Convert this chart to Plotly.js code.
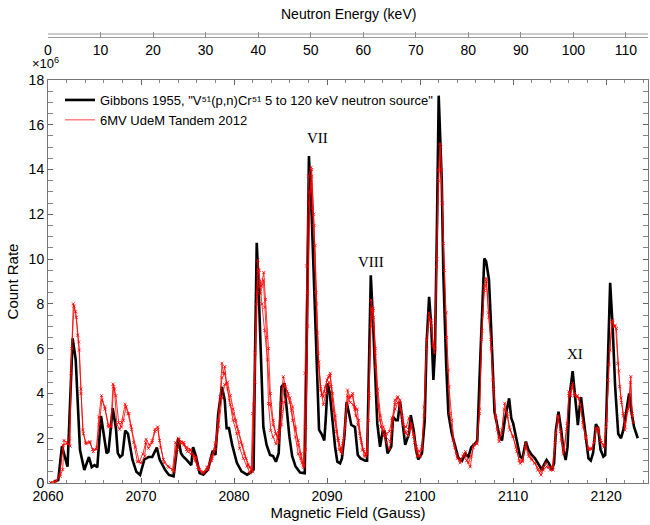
<!DOCTYPE html>
<html>
<head>
<meta charset="utf-8">
<script src="https://cdn.plot.ly/plotly-3.0.1.min.js"></script>
<style>html,body{margin:0;padding:0;background:#fff;}#chart{width:650px;height:525px;}</style>
</head>
<body>
<div id="chart"></div>
<script>
// Gibbons 1955 (black)
const gibbonsField = [2060.6,2061.1,2061.5,2062.1,2062.65,2062.98,2063.44,2063.9,2064.4,2064.7,2065.0,2065.3,2065.7,2066.3,2066.5,2066.96,2067.3,2067.5,2067.74,2068.0,2068.3,2068.6,2069.07,2069.5,2069.9,2070.36,2070.8,2071.2,2071.7,2072.0,2072.6,2073.0,2073.5,2073.7,2074.0,2074.3,2074.5,2074.9,2075.4,2075.6,2075.9,2076.3,2076.7,2077.2,2077.7,2078.0,2078.3,2078.7,2079.0,2079.2,2079.45,2079.8,2080.3,2080.8,2081.4,2081.8,2082.1,2082.26,2082.44,2082.6,2082.87,2083.15,2083.5,2083.87,2084.2,2084.5,2084.8,2085.1,2085.4,2085.6,2085.95,2086.25,2086.6,2087.1,2087.6,2087.8,2088.05,2088.35,2088.6,2088.8,2088.96,2089.14,2089.4,2089.7,2089.85,2090.07,2090.3,2090.57,2090.86,2091.1,2091.4,2091.6,2091.86,2092.1,2092.35,2092.6,2093.0,2093.3,2093.6,2094.1,2094.3,2094.44,2094.7,2094.9,2095.16,2095.4,2095.7,2095.97,2096.2,2096.5,2096.9,2097.1,2097.4,2097.6,2097.85,2098.1,2098.4,2098.8,2099.0,2099.3,2099.57,2099.8,2100.2,2100.5,2100.7,2100.97,2101.2,2101.43,2101.6,2101.8,2102.0,2102.33,2102.5,2102.8,2103.04,2103.4,2103.76,2104.1,2104.5,2104.85,2105.2,2105.5,2105.9,2106.15,2106.45,2106.9,2107.1,2107.4,2107.6,2107.8,2108.0,2108.25,2108.5,2108.8,2109.1,2109.57,2109.8,2110.0,2110.4,2110.75,2111.0,2111.37,2111.65,2112.0,2112.35,2112.7,2113.1,2113.3,2113.6,2113.85,2114.16,2114.4,2114.6,2114.88,2115.17,2115.4,2115.65,2115.85,2116.1,2116.4,2116.65,2116.96,2117.1,2117.3,2117.55,2117.85,2118.1,2118.35,2118.6,2118.9,2119.15,2119.4,2119.7,2119.9,2120.14,2120.43,2120.7,2120.97,2121.3,2121.6,2121.85,2122.2,2122.47,2122.75,2123.0,2123.4];
const gibbonsRate = [0.05,0.13,1.65,0.73,6.46,5.5,1.47,0.58,1.16,0.71,0.8,0.7,2.99,1.33,1.4,3.34,2.46,1.33,1.16,1.25,2.34,2.2,1.05,0.5,0.36,1.05,1.16,1.16,1.58,1.05,0.58,0.36,0.3,1.05,2.0,1.33,1.2,1.03,0.8,1.6,1.2,0.44,0.37,0.6,1.44,1.25,3.1,4.3,3.7,2.45,2.45,1.7,0.9,0.52,0.37,0.47,0.6,5.8,10.73,9.2,5.8,2.5,1.7,1.25,1.2,0.95,1.33,4.3,4.45,3.6,2.07,1.2,0.75,0.47,0.44,5.8,14.6,11.9,8.77,6.38,3.7,2.37,2.2,1.9,2.8,4.45,4.0,2.8,1.62,0.95,0.88,1.1,2.07,3.63,3.1,2.6,2.5,1.25,1.1,1.0,1.0,4.45,9.28,7.58,4.6,2.65,1.62,2.3,2.3,1.32,1.62,2.96,2.8,2.8,3.63,2.8,1.7,2.2,3.03,2.37,1.47,1.05,1.32,2.8,6.24,8.32,7.0,4.6,5.9,11.15,17.3,13.5,9.36,5.34,3.1,2.22,1.62,1.13,0.99,1.3,1.17,1.6,1.75,1.9,5.34,10.03,9.9,9.1,7.3,5.0,3.18,2.67,2.14,1.9,2.8,3.78,2.9,2.67,1.8,1.18,1.1,1.85,1.48,1.25,1.1,0.88,0.58,0.8,1.03,0.88,0.58,0.88,2.37,3.18,2.37,1.47,1.03,1.6,4.0,5.0,3.9,2.59,3.2,3.83,2.95,2.07,1.1,1.0,1.35,2.63,2.45,1.48,1.18,1.25,4.75,8.94,6.96,4.3,2.2,2.0,2.37,3.4,4.0,3.1,2.5,2.0];

// 6MV UdeM Tandem 2012 (red), run A
const runAField = [2060.3,2060.9,2061.3,2061.58,2061.72,2062.1,2062.37,2062.47,2062.72,2062.97,2063.19,2063.37,2063.55,2063.73,2064.05,2064.5,2064.87,2065.23,2065.46,2065.75,2066.13,2066.49,2066.74,2067.0,2067.15,2067.4,2067.7,2067.9,2068.3,2068.6,2068.9,2069.2,2069.6,2070.0,2070.4,2070.55,2070.9,2071.2,2071.5,2071.8,2072.0,2072.4,2072.9,2073.4,2073.7,2074.0,2074.3,2074.6,2074.9,2075.3,2075.9,2076.3,2076.7,2077.2,2077.6,2078.0,2078.3,2078.5,2078.7,2078.85,2079.0,2079.2,2079.5,2079.9,2080.3,2080.6,2081.0,2081.4,2081.7,2081.85,2082.0,2082.26,2082.55,2082.7,2082.85,2083.15,2083.3,2083.5,2083.7,2083.95,2084.2,2084.5,2084.8,2085.0,2085.3,2085.55,2085.8,2086.2,2086.6,2086.9,2087.3,2087.45,2087.63,2087.8,2088.0,2088.28,2088.4,2088.7,2088.96,2089.1,2089.3,2089.6,2089.8,2090.14,2090.35,2090.57,2090.86,2091.2,2091.5,2091.7,2092.0,2092.2,2092.45,2092.76,2093.0,2093.25,2093.5,2093.8,2094.1,2094.3,2094.5,2094.73,2094.95,2095.16,2095.4,2095.7,2096.0,2096.3,2096.8,2097.0,2097.3,2097.6,2097.85,2098.1,2098.4,2098.8,2099.0,2099.3,2099.6,2099.9,2100.2,2100.43,2100.7,2100.97,2101.2,2101.4,2101.55,2101.75,2101.97,2102.15,2102.3,2102.5,2102.8,2103.04,2103.2,2103.55,2103.9,2104.3,2104.7,2105.0,2105.4,2105.7,2106.1,2106.4,2106.6,2106.9,2107.1,2107.34,2107.6,2107.8,2108.1,2108.3,2108.5,2108.8,2109.1,2109.4,2109.65,2110.0,2110.4,2110.75,2111.0,2111.37,2111.7,2112.0,2112.35,2112.65,2113.0,2113.25,2113.6,2114.0,2114.3,2114.6,2114.88,2115.17,2115.5,2115.8,2116.0,2116.2,2116.4,2116.6,2116.85,2117.1,2117.3,2117.55,2117.85,2118.1,2118.45,2118.75,2118.9,2119.15,2119.4,2119.75,2120.0,2120.2,2120.4,2120.68,2120.86,2121.0,2121.25,2121.45,2121.65,2121.85,2122.0,2122.3,2122.5,2122.65,2122.8,2122.9];
const runARate = [0.02,0.1,0.3,0.6,1.9,1.8,1.65,4.9,8.0,7.65,6.6,5.94,4.2,2.37,1.8,1.85,1.4,1.6,2.95,3.9,3.3,2.5,2.55,4.42,4.2,2.6,2.4,2.7,3.52,3.1,2.55,1.8,0.95,0.9,1.2,1.95,1.7,1.9,2.4,2.5,1.9,1.05,0.75,0.6,1.8,2.0,1.85,1.8,1.5,1.45,1.15,0.6,0.5,0.7,1.2,1.75,2.8,3.85,5.35,4.9,5.2,4.45,3.7,2.8,2.2,1.55,1.1,0.75,0.45,0.6,3.1,5.8,9.95,9.5,8.45,9.06,7.85,6.5,3.55,2.35,2.05,1.75,2.35,3.55,4.75,4.3,4.0,3.25,2.05,1.3,0.9,0.75,4.9,9.7,13.7,14.1,12.3,10.6,6.7,5.4,4.15,3.85,4.3,4.75,4.9,3.7,2.8,1.9,1.47,1.77,2.8,4.15,3.85,4.0,3.3,3.3,2.22,1.47,1.32,1.4,4.0,8.17,7.7,5.8,4.0,2.8,2.37,2.07,1.85,2.8,3.7,3.85,3.7,2.8,2.22,2.37,2.66,2.07,1.62,1.4,1.62,3.4,6.4,7.42,7.27,6.1,5.8,9.66,13.97,15.16,14.0,10.7,7.6,5.04,3.1,1.9,1.3,1.0,1.3,1.0,0.72,1.6,1.75,3.1,6.4,8.8,9.14,7.6,6.4,4.6,3.0,2.37,1.85,2.37,3.56,2.96,2.37,2.07,1.4,0.88,0.95,1.77,1.18,1.03,0.88,0.58,0.36,0.58,0.73,0.58,0.58,2.22,2.96,1.9,1.47,2.66,4.08,3.9,4.45,3.9,3.85,3.8,3.3,2.5,2.07,1.55,1.55,1.9,2.45,2.45,1.9,1.6,2.5,4.6,5.94,7.28,6.98,7.05,5.34,4.3,3.6,3.1,2.37,3.25,3.4,4.75,3.1,2.7];

// run B
const runBField = [2060.3,2060.8,2061.3,2061.6,2062.0,2062.3,2062.55,2062.8,2063.05,2063.3,2063.55,2063.8,2064.1,2064.5,2064.8,2065.2,2065.5,2065.8,2066.1,2066.5,2066.8,2067.05,2067.3,2067.6,2067.9,2068.1,2068.4,2068.7,2069.0,2069.4,2069.8,2070.2,2070.5,2070.8,2071.2,2071.5,2071.8,2072.1,2072.5,2073.0,2073.5,2073.8,2074.1,2074.5,2074.9,2075.3,2075.7,2076.1,2076.6,2077.1,2077.6,2078.0,2078.4,2078.7,2079.0,2079.3,2079.6,2079.9,2080.3,2080.7,2081.1,2081.5,2081.9,2082.15,2082.4,2082.6,2082.9,2083.2,2083.4,2083.7,2083.9,2084.2,2084.5,2084.8,2085.1,2085.4,2085.7,2086.0,2086.3,2086.6,2086.9,2087.2,2087.5,2087.7,2087.9,2088.1,2088.35,2088.55,2088.8,2089.05,2089.3,2089.6,2089.9,2090.2,2090.45,2090.7,2091.0,2091.3,2091.6,2091.9,2092.2,2092.5,2092.8,2093.1,2093.4,2093.7,2094.0,2094.3,2094.5,2094.75,2095.0,2095.2,2095.5,2095.8,2096.1,2096.4,2096.7,2097.0,2097.3,2097.55,2097.8,2098.1,2098.4,2098.7,2099.0,2099.3,2099.6,2099.9,2100.2,2100.45,2100.7,2100.95,2101.2,2101.4,2101.6,2101.8,2102.0,2102.2,2102.4,2102.6,2102.85,2103.1,2103.4,2103.7,2104.0,2104.3,2104.6,2104.9,2105.2,2105.5,2105.8,2106.1,2106.4,2106.65,2106.9,2107.15,2107.4,2107.65,2107.9,2108.15,2108.45,2108.75,2109.05,2109.35,2109.6,2109.95,2110.3,2110.65,2111.0,2111.3,2111.65,2112.0,2112.3,2112.6,2112.95,2113.2,2113.5,2113.85,2114.2,2114.5,2114.8,2115.1,2115.4,2115.75,2116.0,2116.3,2116.6,2116.9,2117.2,2117.5,2117.8,2118.1,2118.4,2118.7,2118.95,2119.2,2119.5,2119.8,2120.05,2120.3,2120.6,2120.9,2121.1,2121.35,2121.6,2121.85,2122.05,2122.35,2122.6,2122.8];
const runBRate = [0.02,0.05,0.4,1.7,1.75,2.0,6.0,7.9,7.4,6.3,4.0,2.2,1.75,1.8,1.5,1.5,2.6,3.7,3.4,2.6,2.5,4.3,3.9,2.7,2.5,2.8,3.4,3.1,2.4,1.6,0.95,1.3,1.8,1.55,1.8,2.3,2.4,1.6,0.9,0.7,0.55,1.6,1.95,1.8,1.6,1.5,1.2,0.7,0.45,0.7,1.1,1.8,3.2,4.7,4.9,4.2,3.5,3.1,2.5,1.8,1.3,0.8,0.6,3.5,8.0,9.5,8.8,9.4,8.2,6.0,4.0,2.8,2.2,1.8,3.2,4.4,4.1,3.8,3.4,2.5,1.7,1.1,0.8,2.5,8.5,12.5,14.0,12.0,8.5,5.8,4.3,3.5,4.0,4.5,4.3,3.2,2.3,1.5,1.3,2.4,3.9,3.6,3.5,3.0,2.8,1.8,1.2,1.3,3.8,7.8,7.4,5.2,3.4,2.5,2.1,1.8,1.5,2.4,3.5,3.8,3.5,3.0,2.3,2.1,2.5,2.2,1.5,1.2,1.5,3.0,6.0,7.6,7.0,6.2,6.0,10.0,13.5,15.0,12.5,9.5,6.5,4.3,2.8,1.6,1.1,0.9,1.2,1.4,0.9,1.2,1.7,1.8,3.3,6.8,8.6,9.0,7.4,6.0,4.2,2.9,2.0,2.2,3.3,3.1,2.5,2.1,1.6,1.0,1.0,1.6,1.3,1.1,0.9,0.7,0.5,0.7,0.9,0.7,0.7,1.8,3.0,2.3,1.3,2.4,3.9,4.3,4.0,3.9,3.5,2.7,2.0,1.5,1.5,1.8,2.4,2.3,1.8,1.7,2.8,5.3,7.2,7.0,6.9,5.0,3.8,3.0,2.5,3.3,4.5,3.0];

// run C
const runCField = [2073.5,2073.9,2074.2,2074.6,2075.0,2075.4,2075.8,2076.2,2076.7,2077.2,2077.6,2078.0,2078.35,2078.7,2079.0,2079.3,2079.6,2079.9,2080.2,2080.5,2080.9,2081.3,2081.7,2082.0,2082.25,2082.5,2082.75,2083.0,2083.3,2083.6,2083.9,2084.2,2084.5,2084.8,2085.1,2085.4,2085.7,2086.0,2086.3,2086.6,2086.9,2087.2,2087.5,2087.7,2087.9,2088.15,2088.35,2088.6,2088.85,2089.1,2089.4,2089.7,2090.0,2090.3,2090.6,2090.9,2091.2,2091.5,2091.8,2092.1,2092.4,2092.7,2093.0,2093.3,2093.6,2093.9,2094.2,2094.45,2094.7,2094.95,2095.2,2095.45,2095.75,2096.05,2096.4,2096.7,2097.0,2097.3,2097.6,2097.9,2098.2,2098.5,2098.8,2099.1,2099.4,2099.7,2100.0];
const runCRate = [0.5,1.5,1.8,1.7,1.4,1.3,1.0,0.6,0.45,0.6,1.0,1.5,2.5,3.8,4.4,4.5,3.9,3.3,2.8,2.3,1.7,1.1,0.7,0.5,4.5,8.5,9.0,8.0,6.8,5.5,3.5,2.6,2.2,2.0,2.6,3.6,3.9,3.6,2.8,2.4,1.9,1.3,0.7,1.5,7.0,13.0,13.7,11.5,8.0,5.2,3.9,4.1,4.6,4.8,4.0,3.0,2.0,1.4,2.0,3.4,3.8,3.9,3.4,2.6,2.0,1.5,1.2,2.8,7.0,7.8,6.0,4.2,3.0,2.5,2.2,2.3,2.9,3.3,3.6,3.3,2.6,2.5,2.9,2.6,1.8,1.2,1.2];

const legendBlack = 'Gibbons 1955, "V⁵¹(p,n)Cr⁵¹ 5 to 120 keV neutron source"';
const legendRed = '6MV UdeM Tandem 2012';
const energyRange = [0, 114.2];
const fieldRange = [2060, 2124.5];
const peakLabels = ['VII', 'VIII', 'XI'];
const peakLabelX = [2089.0, 2094.7, 2116.6];
const peakLabelY = [15.4, 9.85, 5.75];

const FONT = 'Liberation Sans, Arial, Helvetica, sans-serif';
const red = 'rgba(255,0,0,0.8)';
function redRun(x, y) {
  return {x: x, y: y, type: 'scatter', mode: 'lines+markers', showlegend: false,
    line: {color: red, width: 1}, marker: {symbol: 'x-thin', size: 3, line: {color: red, width: 1}}};
}
const traces = [
  {x: gibbonsField, y: gibbonsRate, type: 'scatter', mode: 'lines', name: legendBlack,
   line: {color: '#000', width: 2.6}},
  {x: [null], y: [null], type: 'scatter', mode: 'lines', name: legendRed, line: {color: '#ff4444', width: 1}},
  redRun(runCField, runCRate),
  redRun(runBField, runBRate),
  redRun(runAField, runARate),
  {x: energyRange, y: [null, null], xaxis: 'x2', yaxis: 'y', type: 'scatter', mode: 'lines', showlegend: false, hoverinfo: 'skip'}
];
const plotH = 525 - 30 - 42;
const topPos = (483 - 37) / plotH;
const annotations = peakLabels.map((t, i) => ({x: peakLabelX[i], y: peakLabelY[i], xref: 'x', yref: 'y', text: t, showarrow: false,
  font: {family: 'Liberation Serif, Times New Roman, serif', size: 15, color: '#000'}}));
annotations.push({x: 0.5, y: (483 - 14) / plotH, xref: 'paper', yref: 'paper', yanchor: 'middle', text: 'Neutron Energy (keV)', showarrow: false,
  font: {family: FONT, size: 14, color: '#000'}});
annotations.push({x: -0.03, y: (483 - 73) / plotH, xref: 'paper', yref: 'paper', xanchor: 'left', yanchor: 'bottom', text: '×10<sup>6</sup>', showarrow: false,
  font: {family: FONT, size: 13, color: '#000'}});
const layout = {
  width: 650, height: 525,
  margin: {l: 48, r: 2, t: 30, b: 42},
  paper_bgcolor: '#fff', plot_bgcolor: '#fff',
  font: {family: FONT, size: 14, color: '#000'},
  showlegend: true,
  legend: {x: 0.02, y: (483 - 85) / plotH, xanchor: 'left', yanchor: 'top', bgcolor: 'rgba(255,255,255,0)',
    font: {family: FONT, size: 13, color: '#000'}, tracegroupgap: 0, itemwidth: 30},
  xaxis: {range: fieldRange, domain: [0, 1], anchor: 'y', tick0: 2060, dtick: 10, ticks: 'inside', ticklen: 5, tickcolor: '#666',
    minor: {dtick: 2, ticks: 'inside', ticklen: 3, tickcolor: '#888'},
    showline: true, linecolor: '#777', linewidth: 1, mirror: 'allticks', showgrid: false, zeroline: false,
    tickfont: {size: 14}, title: {text: 'Magnetic Field (Gauss)', font: {size: 15}, standoff: 2}},
  yaxis: {range: [0, 18], domain: [0, 403 / plotH], dtick: 2, ticks: 'inside', ticklen: 5, tickcolor: '#666',
    minor: {dtick: 0.5, ticks: 'inside', ticklen: 3, tickcolor: '#888'},
    showline: true, linecolor: '#777', linewidth: 1, mirror: 'allticks', showgrid: false, zeroline: false,
    tickfont: {size: 14}, title: {text: 'Count Rate', font: {size: 15}, standoff: 6}},
  xaxis2: {range: energyRange, overlaying: 'x', anchor: 'free', position: topPos, side: 'bottom', dtick: 10, tick0: 0,
    ticks: 'inside', ticklen: 5, tickcolor: '#888', showline: true, linecolor: '#999', linewidth: 1,
    showgrid: false, zeroline: false, tickfont: {size: 14}},
  shapes: [{type: 'line', xref: 'paper', yref: 'paper', x0: 0, x1: 1, y0: topPos + 3 / plotH, y1: topPos + 3 / plotH,
    line: {color: '#999', width: 1}}],
  annotations: annotations
};
Plotly.newPlot('chart', traces, layout, {displayModeBar: false, staticPlot: true});
</script>
</body>
</html>
